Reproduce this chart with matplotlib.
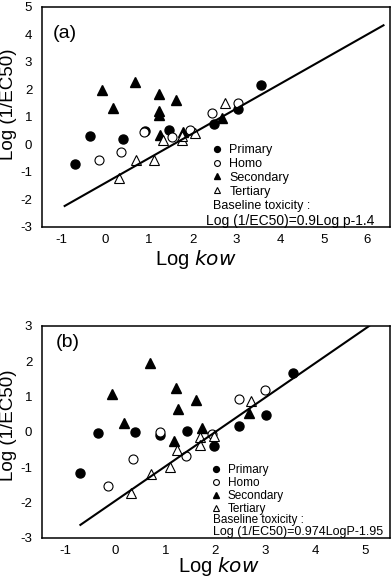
import numpy as np
import matplotlib
matplotlib.use("Agg")
import matplotlib.pyplot as plt

plt.rcParams['font.family'] = ['Liberation Sans', 'DejaVu Sans']
plt.rcParams['axes.unicode_minus'] = False

# panel (a)
a_prim_x = [-0.69, -0.34, 0.40, 0.92, 1.45, 2.49, 3.03, 3.56]
a_prim_y = [-0.71, 0.29, 0.20, 0.49, 0.51, 0.73, 1.30, 2.18]
a_homo_x = [-0.15, 0.37, 0.88, 1.53, 1.95, 2.44, 3.03]
a_homo_y = [-0.56, -0.28, 0.45, 0.27, 0.51, 1.14, 1.52]
a_sec_x = [-0.08, 0.18, 0.69, 1.22, 1.22, 1.22, 1.62, 1.26, 1.79, 2.67]
a_sec_y = [1.98, 1.34, 2.26, 1.83, 1.22, 1.08, 1.61, 0.33, 0.45, 0.97]
a_ter_x = [0.31, 0.71, 1.11, 1.33, 1.75, 1.75, 2.06, 2.75]
a_ter_y = [-1.22, -0.55, -0.55, 0.17, 0.15, 0.30, 0.42, 1.50]
a_line_x = [-0.93, 6.37]
a_slope, a_icpt = 0.9, -1.4

# panel (b)
b_prim_x = [-0.70, -0.35, 0.40, 0.90, 1.43, 1.97, 2.48, 3.01, 3.55]
b_prim_y = [-1.17, -0.02, 0.00, -0.08, 0.04, -0.40, 0.17, 0.47, 1.68]
b_homo_x = [-0.15, 0.35, 0.90, 1.42, 1.93, 2.47, 3.00]
b_homo_y = [-1.53, -0.77, 0.01, -0.68, -0.06, 0.92, 1.19]
b_sec_x = [-0.07, 0.17, 0.69, 1.22, 1.25, 1.62, 1.73, 1.17, 2.67]
b_sec_y = [1.08, 0.25, 1.96, 1.24, 0.64, 0.91, 0.10, -0.27, 0.53]
b_ter_x = [0.31, 0.71, 1.10, 1.23, 1.69, 1.69, 1.97, 2.71]
b_ter_y = [-1.74, -1.19, -0.98, -0.51, -0.15, -0.37, -0.11, 0.89]
b_line_x = [-0.70, 5.08]
b_slope, b_icpt = 0.974, -1.95

fig = plt.figure(figsize=(3.92, 5.79), dpi=100)
ax1 = fig.add_axes([0.107, 0.608, 0.888, 0.380])
ax2 = fig.add_axes([0.107, 0.071, 0.888, 0.366])


def draw(ax, px, py, hx, hy, sx, sy, tx, ty, lx, slope, icpt,
         leg_top, leg_fs, leg_sp, base_y, eq, eq_x, eq_y, eq_fs):
    ms = 6.5
    ax.plot(px, py, 'o', color='black', ms=ms, ls='none', label='Primary')
    ax.plot(hx, hy, 'o', mfc='white', mec='black', mew=0.8, ms=ms, ls='none', label='Homo')
    ax.plot(sx, sy, '^', color='black', ms=ms + 1, ls='none', label='Secondary')
    ax.plot(tx, ty, '^', mfc='white', mec='black', mew=0.8, ms=ms + 1, ls='none', label='Tertiary')
    lx = np.array(lx)
    ax.plot(lx, slope * lx + icpt, color='black', lw=1.5)
    ax.tick_params(length=0, labelsize=9.5, pad=5)
    ax.tick_params(axis='y', pad=7)
    for s in ax.spines.values():
        s.set_linewidth(1.1)
    ax.set_ylabel('Log (1/EC50)', fontsize=13.5, va='center')
    ax.set_xlabel('Log $\\it{kow}$', fontsize=14.5, va='center')
    ax.legend(loc='upper left', bbox_to_anchor=(0.47, leg_top), frameon=False,
              fontsize=leg_fs, markerscale=0.65, handlelength=0.8,
              handletextpad=0.6, labelspacing=leg_sp, borderpad=0)
    ax.text(0.49, base_y, 'Baseline toxicity :', transform=ax.transAxes,
            fontsize=leg_fs, va='center')
    ax.text(eq_x, eq_y, eq, transform=ax.transAxes, fontsize=eq_fs, va='center')


draw(ax1, a_prim_x, a_prim_y, a_homo_x, a_homo_y, a_sec_x, a_sec_y, a_ter_x, a_ter_y,
     a_line_x, a_slope, a_icpt, 0.405, 9, 0.15, 0.095,
     'Log (1/EC50)=0.9Log p-1.4', 0.47, 0.027, 10)
ax1.set_xlim(-1.45, 6.52)
ax1.set_ylim(-3, 5)
ax1.set_xticks(range(-1, 7))
ax1.set_yticks(range(-3, 6))
ax1.text(0.03, 0.92, '(a)', transform=ax1.transAxes, fontsize=14, va='top')
ax1.yaxis.set_label_coords(-0.095, 0.56)
ax1.xaxis.set_label_coords(0.443, -0.149)

draw(ax2, b_prim_x, b_prim_y, b_homo_x, b_homo_y, b_sec_x, b_sec_y, b_ter_x, b_ter_y,
     b_line_x, b_slope, b_icpt, 0.377, 8.5, 0.08, 0.085,
     'Log (1/EC50)=0.974LogP-1.95', 0.49, 0.028, 9)
ax2.set_xlim(-1.47, 5.5)
ax2.set_ylim(-3, 3)
ax2.set_xticks(range(-1, 6))
ax2.set_yticks(range(-3, 4))
ax2.text(0.04, 0.96, '(b)', transform=ax2.transAxes, fontsize=14, va='top')
ax2.yaxis.set_label_coords(-0.095, 0.533)
ax2.xaxis.set_label_coords(0.509, -0.137)

fig.savefig('out.png', dpi=100)
